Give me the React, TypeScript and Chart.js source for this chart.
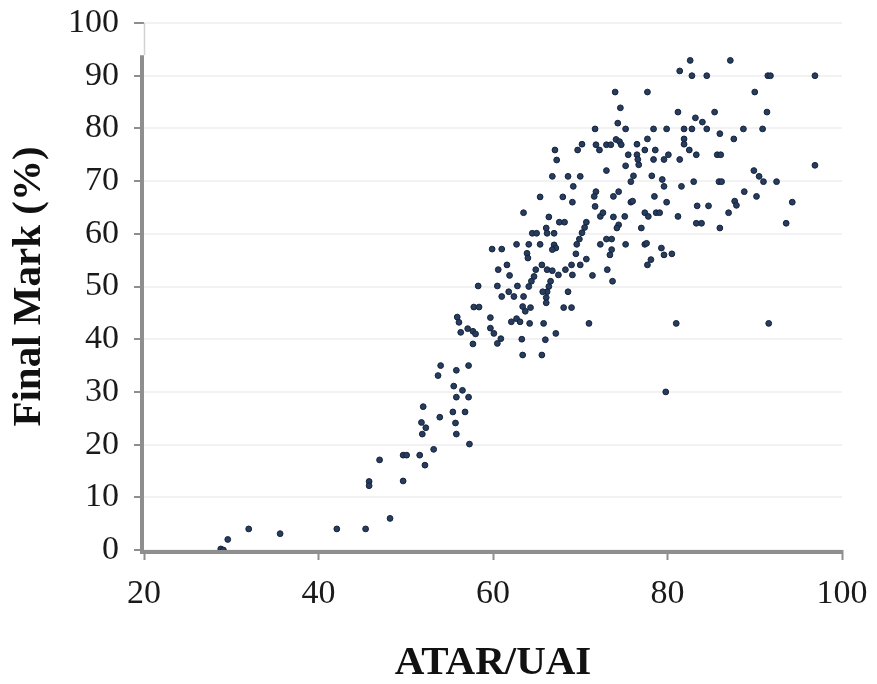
import { useEffect, useRef } from 'react';
import { Chart, registerables } from 'chart.js';

Chart.register(...registerables);

// ATAR/UAI (x) and Final Mark % (y)
const atar = [
  28.8, 29.1, 29.6, 32.0, 35.6, 42.1, 45.4, 48.2, 45.8, 45.8, 47.0, 49.7, 49.7, 50.1, 51.6, 52.2, 53.2, 52.0, 51.8, 52.3,
  51.9, 53.9, 57.3, 55.8, 55.7, 56.8, 55.4, 55.5, 56.5, 55.8, 57.2, 54.0, 55.8, 53.7, 57.2,
  57.8, 58.4, 55.9, 56.1, 56.3, 57.1, 57.7, 58.0, 57.7, 59.7, 59.7, 60.1, 60.9, 60.5, 63.3, 63.4, 65.6, 62.1, 62.7, 63.1,
  64.2, 65.8, 71.0, 66.0, 67.2,
  66.4, 67.6, 68.2, 70.7, 70.5, 70.2, 69.9, 69.6, 72.3, 73.8, 74.4, 74.2, 77.0, 64.5, 65.0, 66.1, 66.2, 67.0, 62.7, 64.1,
  65.4, 67.0, 67.2, 66.8, 59.9, 61.0, 72.3, 73.0, 73.6, 73.6, 73.4, 75.2, 63.9, 64.0, 69.5, 70.7, 70.0, 69.0, 68.3, 69.1,
  67.5, 61.6, 65.6, 66.2, 66.8, 60.6, 61.9, 64.9, 64.7, 64.4, 64.1, 71.4, 73.1, 73.7, 58.3, 60.5, 62.8, 66.6, 66.4, 66.2,
  66.1, 66.1, 65.7, 61.0, 61.8, 62.4, 63.5, 68.6, 68.1, 69.0, 63.4, 64.3, 63.7,
  74.0, 74.6, 74.3, 75.2, 71.7, 71.8, 72.2, 73.0, 73.5, 74.1, 74.5, 74.7, 70.2, 69.7, 67.1, 67.3, 75.5, 75.2, 73.0, 66.8,
  68.6, 70.0, 69.2, 75.8, 65.4, 68.0, 69.1, 71.8, 71.6, 73.8, 74.4, 75.8, 63.5, 71.7, 72.6, 75.1,
  82.6, 87.2, 81.4, 82.8, 84.5, 91.5, 91.8, 96.9, 77.7, 90.0, 81.2, 85.4, 91.4, 83.2, 84.0, 84.5, 78.4, 79.9, 81.9, 82.8,
  88.7, 90.9, 86.0, 87.6, 77.7, 76.5, 81.9, 81.9, 82.5, 77.4, 78.6, 76.5, 76.6, 76.7, 78.4, 79.6, 80.1, 81.4, 83.3, 85.7,
  86.1, 76.1, 78.2, 79.4, 79.6, 81.6, 83.0, 85.9, 86.2, 89.9, 90.5, 91.0, 92.5, 96.9, 78.5, 79.9, 88.8, 90.2, 94.3, 83.4,
  84.7, 87.7, 87.9, 87.0, 77.4, 77.8, 78.7, 79.1, 81.2, 76.0,
  83.3, 83.9, 86.0, 93.6, 77.4, 77.6, 79.3, 79.6, 80.5, 78.1, 77.7, 81.0, 91.6, 79.8,
];

const finalMark = [
  0.2, 0, 2, 4, 3.1, 4, 4, 6, 13, 12.2, 17.1, 13.1, 18, 18, 18, 16.1, 19.1, 27.2, 24.2, 23.2,
  22, 25.2, 20.1, 22, 24.1, 26.2, 26.2, 31.1, 30.3, 29, 29, 35, 34.1, 33.1, 35,
  46.1, 46.1, 44.2, 43.2, 41.3, 42, 41.5, 41, 39.1, 44.1, 42.1, 41.1, 40.1, 39.2, 40, 37, 37, 43.3, 43.9, 43.3,
  43, 43, 43, 39.9, 41.1,
  63.2, 62.2, 62.2, 62.2, 61.2, 60.2, 59, 58, 63.3, 63.2, 61.7, 61.1, 61.1, 60.1, 60.1, 61.1, 60.1, 60.1, 58, 58,
  58, 57.9, 57.3, 57, 57.1, 57.1, 58, 59, 59, 57, 56, 58, 56.3, 55.4, 56.2, 55.2, 54.1, 54.1, 53.2, 52.2,
  52.2, 54.1, 54.1, 53.2, 53, 53.2, 52.1, 53.2, 51.9, 51, 50, 52.1, 53.2, 51, 50.1, 50.1, 50.1, 51, 50, 49,
  47.9, 46.9, 49, 48.1, 49, 48.1, 48.1, 49, 46, 46, 46.2, 46, 45.3,
  86.9, 83.9, 81, 79.9, 79.9, 76.9, 75.9, 76.9, 76.9, 77.9, 77.5, 76.9, 77, 75.9, 75.9, 74, 75, 72.9, 72, 70.9,
  70.9, 70.9, 69, 69.9, 67, 67, 66, 68, 67.1, 67.1, 68, 66, 64, 65.2, 64, 63.3,
  92.9, 92.9, 90.9, 90, 90, 90, 90, 90, 86.9, 86.9, 83.1, 83.1, 83.1, 82, 81.2, 79.9, 79.9, 79.9, 79.9, 79.9,
  79.9, 79.9, 79, 78, 78, 77, 78, 77, 75.9, 75.9, 75.9, 75, 74.1, 73.1, 74.1, 74.1, 75, 74.1, 75, 75,
  75, 71, 71, 70.3, 69, 69, 69.9, 69.9, 69.9, 72, 70.9, 69.9, 69.9, 73, 67.1, 66, 68, 67.1, 66, 65.3,
  65.3, 66.2, 65.4, 64, 64, 63.3, 64, 64, 63.3, 66.2,
  62, 62, 61.1, 62, 58, 58.2, 57.3, 56, 56.2, 55.1, 54.1, 43, 43, 30,
];

const xMin = 20;
const xMax = 100;
const xStep = 20;
const yMin = 0;
const yMax = 100;
const yStep = 10;

const FONT = '"Liberation Serif", "Times New Roman", serif';

const axisPlugin = {
  id: 'axisLines',
  beforeDatasetsDraw(chart: any) {
    const { ctx, scales } = chart;
    const x = scales.x;
    const y = scales.y;
    const x0 = x.getPixelForValue(xMin);
    const xr = x.getPixelForValue(xMax);
    const y0 = y.getPixelForValue(yMin);
    const yTop = y.getPixelForValue(yMax);
    const yThick = y.getPixelForValue(93.9);
    ctx.save();
    ctx.strokeStyle = '#8e8e8e';
    ctx.lineWidth = 4;
    ctx.beginPath();
    ctx.moveTo(x0 - 2, yThick);
    ctx.lineTo(x0 - 2, y0 + 4);
    ctx.stroke();
    ctx.beginPath();
    ctx.moveTo(x0 - 4, y0 + 2);
    ctx.lineTo(xr + 1, y0 + 2);
    ctx.stroke();
    ctx.strokeStyle = '#d2d2d2';
    ctx.lineWidth = 1.5;
    ctx.beginPath();
    ctx.moveTo(x0 + 0.5, yTop);
    ctx.lineTo(x0 + 0.5, yThick);
    ctx.stroke();
    ctx.restore();
  },
};

function zeroPad(s: any) {
  s.paddingTop = 0;
  s.paddingBottom = 0;
  s.paddingLeft = 0;
  s.paddingRight = 0;
}

export default function App() {
  const ref = useRef<HTMLCanvasElement | null>(null);

  useEffect(() => {
    if (!ref.current) return;
    const points = atar.map((v, i) => ({ x: v, y: finalMark[i] }));
    const chart = new Chart(ref.current, {
      type: 'scatter',
      data: {
        datasets: [
          {
            data: points,
            backgroundColor: '#263d60',
            borderColor: '#15223a',
            borderWidth: 1,
            pointRadius: 2.9,
          },
        ],
      },
      options: {
        responsive: false,
        animation: false,
        layout: { padding: { left: 0, right: 35, top: 23, bottom: 0 } },
        plugins: { legend: { display: false }, tooltip: { enabled: false } },
        scales: {
          x: {
            type: 'linear',
            min: xMin,
            max: xMax,
            ticks: { stepSize: xStep, color: '#1a1a1a', padding: 14, font: { family: FONT, size: 34 } },
            grid: { drawOnChartArea: false, drawTicks: true, tickLength: 10, tickColor: '#8e8e8e', tickWidth: 2 },
            border: { display: false },
            title: {
              display: true,
              text: 'ATAR/UAI',
              color: '#111',
              font: { family: FONT, size: 41, weight: 'bold', lineHeight: 1 },
              padding: { top: 0, bottom: 0 },
            },
            afterFit: (s: any) => {
              s.height = 134;
              zeroPad(s);
            },
          },
          y: {
            type: 'linear',
            min: yMin,
            max: yMax,
            ticks: { stepSize: yStep, color: '#1a1a1a', padding: 15, font: { family: FONT, size: 34 } },
            grid: {
              color: 'rgba(0,0,0,0.05)',
              lineWidth: 2,
              drawTicks: true,
              tickLength: 10,
              tickColor: '#8e8e8e',
              tickWidth: 2,
            },
            border: { display: false },
            title: {
              display: true,
              text: 'Final Mark (%)',
              color: '#111',
              font: { family: FONT, size: 41, weight: 'bold', lineHeight: 1 },
              padding: { top: 9, bottom: 0 },
            },
            afterFit: (s: any) => {
              s.width = 144;
              zeroPad(s);
            },
          },
        },
      },
      plugins: [axisPlugin],
    });
    return () => chart.destroy();
  }, []);

  return (
    <div style={{ position: 'fixed', left: 0, top: 0, width: 877, height: 684, background: '#fff' }}>
      <canvas ref={ref} width={877} height={684} />
    </div>
  );
}
